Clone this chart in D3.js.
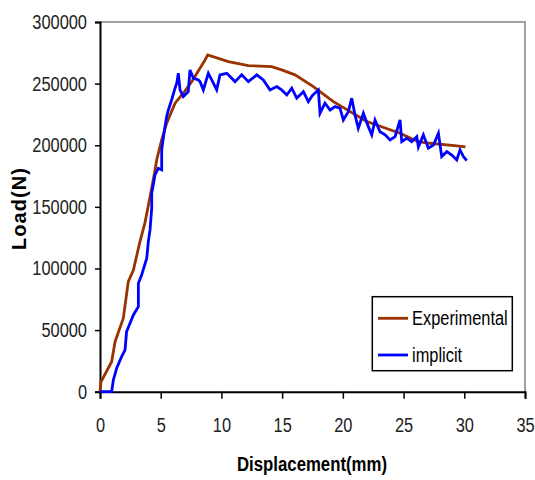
<!DOCTYPE html>
<html><head><meta charset="utf-8">
<script src="https://cdn.jsdelivr.net/npm/d3@7"></script>
<style>
html,body{margin:0;padding:0;background:#fff;}
svg text{font-family:"Liberation Sans",Arial,sans-serif;}
</style></head>
<body><svg id="c" width="535" height="480"></svg>
<script>
const xTicks = [0,5,10,15,20,25,30,35];
const yTicks = [0,50000,100000,150000,200000,250000,300000];
const seriesNames = ["Experimental","implicit"];
const seriesColors = ["#993300","#0000ff"];
const experimental = [[0,0],[0.08,8000],[0.96,24300],[1.24,40600],[1.92,59600],[2.33,89300],[2.75,98800],[3.29,121800],[3.7,137000],[4.12,158000],[4.5,178000],[4.67,188100],[5.08,204300],[5.49,217900],[6.18,234100],[6.86,242200],[7.55,251600],[8.65,269200],[8.87,273300],[10.57,267900],[12.22,264600],[14.14,263800],[14.96,261100],[16.06,257100],[17.57,247600],[19.22,235400],[21.97,219200],[24.71,209700],[26.22,202900],[27.18,201600],[29.38,199400],[30.1,198600]];
const implicit = [[0,0],[0.96,0],[1.1,9500],[1.37,19000],[1.78,28400],[2.06,33800],[2.19,48700],[2.47,55500],[2.75,62300],[3.16,69000],[3.16,88000],[3.43,94700],[3.85,108300],[3.98,121800],[4.12,131300],[4.26,148900],[4.26,161000],[4.53,175900],[4.8,181300],[5.08,180000],[5.08,196200],[5.21,205700],[5.35,215100],[5.49,223200],[5.63,228600],[5.9,236800],[6.18,246300],[6.32,250300],[6.45,258400],[6.59,244900],[6.86,239500],[7.27,243500],[7.41,261100],[7.69,254400],[8.1,253000],[8.24,251600],[8.51,244900],[8.92,258400],[9.2,253000],[9.61,244900],[9.88,257100],[10.44,258400],[10.85,254400],[11.12,251600],[11.67,257100],[12.22,251600],[12.91,257100],[13.45,253000],[14.0,244900],[14.56,247600],[14.96,244900],[15.38,240800],[15.79,246300],[16.2,238200],[16.75,243500],[17.16,235400],[17.5,240500],[17.98,244900],[18.12,226000],[18.53,234100],[18.95,228600],[19.36,231300],[19.77,230000],[20.04,220500],[20.45,227300],[20.73,238200],[21.0,224600],[21.27,213800],[21.69,226000],[22.1,215100],[22.38,208400],[22.65,220500],[23.06,211000],[23.48,208400],[23.89,204300],[24.3,207000],[24.71,220500],[24.85,202900],[25.26,205700],[25.67,202900],[26.09,207000],[26.22,198500],[26.63,208400],[27.04,197600],[27.46,200200],[27.87,209700],[28.14,190800],[28.56,194800],[28.97,192100],[29.38,188100],[29.65,196200],[29.93,190800],[30.2,187500]];
const xTitle = "Displacement(mm)";
const yTitle = "Load(N)";

const svg = d3.select("#c");
const m = {l:100, t:22, r:10, b:88.3};
const W = 535, H = 480;
const x = d3.scaleLinear().domain([0,35]).range([m.l, W - m.r]);
const y = d3.scaleLinear().domain([0,300000]).range([H - m.b, m.t]);

function squeeze(sel, f){
  sel.each(function(){
    const w = this.getComputedTextLength();
    d3.select(this).attr("textLength", w*f).attr("lengthAdjust","spacingAndGlyphs");
  });
}

// frame (gray top/right)
svg.append("path")
  .attr("d", `M${x(0)},${y(300000)}H${x(35)}V${y(0)}`)
  .attr("fill","none").attr("stroke","#a0a0a0").attr("stroke-width",2);

// axes
const gx = svg.append("g").attr("transform",`translate(0,${y(0)})`)
  .call(d3.axisBottom(x).tickValues(xTicks).tickSize(7).tickPadding(19).tickFormat(d3.format("d")));
const gy = svg.append("g").attr("transform",`translate(${x(0)},0)`)
  .call(d3.axisLeft(y).tickValues(yTicks).tickSize(5).tickPadding(8).tickFormat(d3.format("d")));
[gx,gy].forEach(g=>{
  g.select(".domain").attr("stroke","#000").attr("stroke-width",2);
  g.selectAll(".tick line").attr("stroke","#000").attr("stroke-width",1.5);
  g.selectAll(".tick text").attr("font-size",20).attr("fill","#222")
    .style("font-family",'"Liberation Sans",Arial,sans-serif');
  squeeze(g.selectAll(".tick text"), 0.82);
});

// lines
const line = d3.line().x(d=>x(d[0])).y(d=>y(d[1]));
[experimental, implicit].forEach((s,i)=>{
  svg.append("path").datum(s).attr("d",line).attr("fill","none")
    .attr("stroke",seriesColors[i]).attr("stroke-width",2.8).attr("stroke-linejoin","miter");
});

// titles
svg.append("text").attr("x",312).attr("y",471).attr("text-anchor","middle")
  .attr("font-size",20).attr("font-weight","bold").attr("fill","#000").text(xTitle)
  .attr("textLength",150).attr("lengthAdjust","spacingAndGlyphs");
svg.append("text").attr("transform",`translate(26,209) rotate(-90)`)
  .attr("text-anchor","middle").attr("font-size",20).attr("font-weight","bold").attr("fill","#000")
  .text(yTitle).attr("textLength",82).attr("lengthAdjust","spacing");

// legend
const lg = svg.append("g");
lg.append("rect").attr("x",372.3).attr("y",296.7).attr("width",140).attr("height",74)
  .attr("fill","#fff").attr("stroke","#000").attr("stroke-width",1.5);
seriesNames.forEach((n,i)=>{
  const ly = 318.3 + i*36.7;
  lg.append("line").attr("x1",378).attr("x2",408).attr("y1",ly).attr("y2",ly)
    .attr("stroke",seriesColors[i]).attr("stroke-width",2.8);
  const t = lg.append("text").attr("x",412).attr("y",ly).attr("dy","0.35em")
    .attr("font-size",20).attr("fill","#000").text(n);
  squeeze(t, 0.82);
});
</script></body></html>
